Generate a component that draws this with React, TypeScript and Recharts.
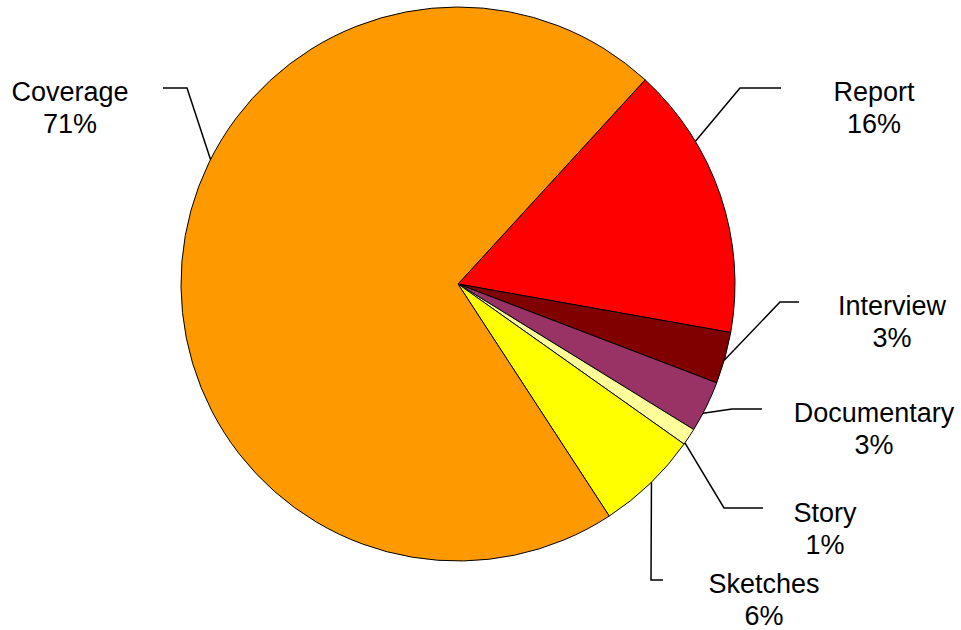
import { Cell, Pie, PieChart } from "recharts";

const categories = ["Report", "Interview", "Documentary", "Story", "Sketches", "Coverage"];
const shares = [16, 3, 3, 1, 6, 71];
const colors = ["#FF0000", "#800000", "#993366", "#FFFF99", "#FFFF00", "#FF9900"];

const data = categories.map((name, i) => ({ name, value: shares[i] }));

// leader line: point on the rim (angle in degrees), elbow, end; then the label centre
const leaders = [
  { angle: 31, elbow: [740, 88], end: [781, 88], text: [874, 101] },
  { angle: -16, elbow: [780, 302], end: [799, 302], text: [892, 315] },
  { angle: -27.8, elbow: [732, 409], end: [762, 409], text: [874, 422] },
  { angle: -35, elbow: [724, 508], end: [763, 508], text: [825, 522] },
  { angle: -45.7, elbow: [651, 580], end: [663, 580], text: [764, 593] },
  { angle: 153.3, elbow: [187, 88], end: [163, 88], text: [70, 101] },
];

const FONT = "'Liberation Sans', Arial, sans-serif";
const RAD = Math.PI / 180;

function renderLabel(props: any) {
  const { cx, cy, outerRadius, index, name, value } = props;
  const l = leaders[index];
  const ax = cx + outerRadius * Math.cos(l.angle * RAD);
  const ay = cy - outerRadius * Math.sin(l.angle * RAD);
  return (
    <g key={`label-${name}`}>
      <polyline
        points={`${ax},${ay} ${l.elbow[0]},${l.elbow[1]} ${l.end[0]},${l.end[1]}`}
        fill="none"
        stroke="#000"
        strokeWidth={1.5}
      />
      <text
        x={l.text[0]}
        y={l.text[1]}
        textAnchor="middle"
        fontFamily={FONT}
        fontSize={27}
        fill="#000"
      >
        <tspan x={l.text[0]}>{name}</tspan>
        <tspan x={l.text[0]} dy={32}>
          {value}%
        </tspan>
      </text>
    </g>
  );
}

export default function App() {
  return (
    <div style={{ position: "absolute", left: 0, top: 0, width: 961, height: 630, background: "#fff" }}>
      <PieChart width={961} height={630} margin={{ top: 0, right: 0, bottom: 0, left: 0 }}>
        <Pie
          data={data}
          dataKey="value"
          nameKey="name"
          cx={458}
          cy={284}
          outerRadius={277}
          startAngle={47.5}
          endAngle={-312.5}
          stroke="#000"
          strokeWidth={1}
          label={renderLabel}
          labelLine={false}
          isAnimationActive={false}
        >
          {data.map((d, i) => (
            <Cell key={d.name} fill={colors[i]} />
          ))}
        </Pie>
      </PieChart>
    </div>
  );
}
